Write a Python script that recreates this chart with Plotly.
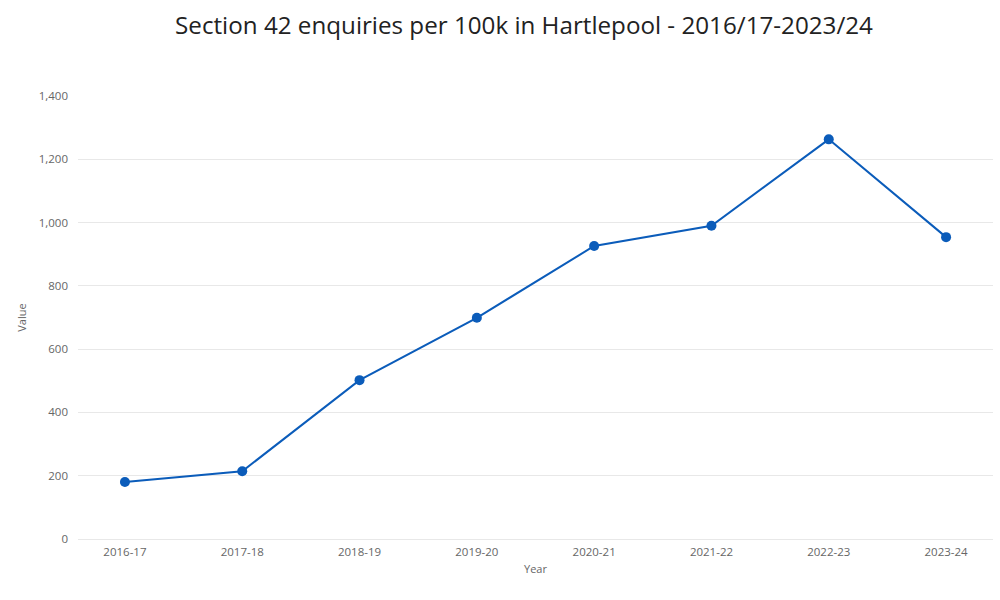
import plotly.graph_objects as go

years = ["2016-17", "2017-18", "2018-19", "2019-20", "2020-21", "2021-22", "2022-23", "2023-24"]
values = [180, 214, 502, 699, 926, 990, 1263, 954]
y_ticks = [0, 200, 400, 600, 800, 1000, 1200, 1400]

fig = go.Figure()
fig.add_trace(go.Scatter(
    x=list(range(len(years))), y=values, mode="lines+markers",
    line=dict(color="#0B5CBA", width=2),
    marker=dict(color="#0B5CBA", size=10),
    hoverinfo="x+y",
))

fig.update_layout(
    width=1000, height=600,
    margin=dict(l=78, r=7, t=96, b=61),
    paper_bgcolor="white", plot_bgcolor="white",
    font=dict(family="Open Sans", color="#666666", size=11),
    title=dict(text="Section 42 enquiries per 100k in Hartlepool - 2016/17-2023/24",
               x=0.524, xanchor="center", y=0.957, yanchor="middle",
               font=dict(family="Open Sans", size=24.2, color="#222222")),
    showlegend=False,
    xaxis=dict(range=[-0.4, 7.4], tickmode="array", tickvals=list(range(len(years))),
               ticktext=years, showgrid=False, zeroline=False, showline=False,
               ticks="", ticklabelstandoff=4,
               title=dict(text="Year", font=dict(size=11, color="#666666"), standoff=7),
               tickfont=dict(size=11.5, color="#666666")),
    yaxis=dict(range=[0, 1400], tickmode="array", tickvals=y_ticks,
               ticktext=[f"{v:,}" for v in y_ticks], showgrid=True, gridcolor="#E8E8E8",
               zeroline=True, zerolinecolor="#E8E8E8", zerolinewidth=1,
               showline=False, ticks="", ticklen=0, ticklabelstandoff=9,
               title=dict(text="Value", font=dict(size=11, color="#666666"), standoff=9),
               tickfont=dict(size=11.5, color="#666666")),
)

fig.write_html("out.html")
